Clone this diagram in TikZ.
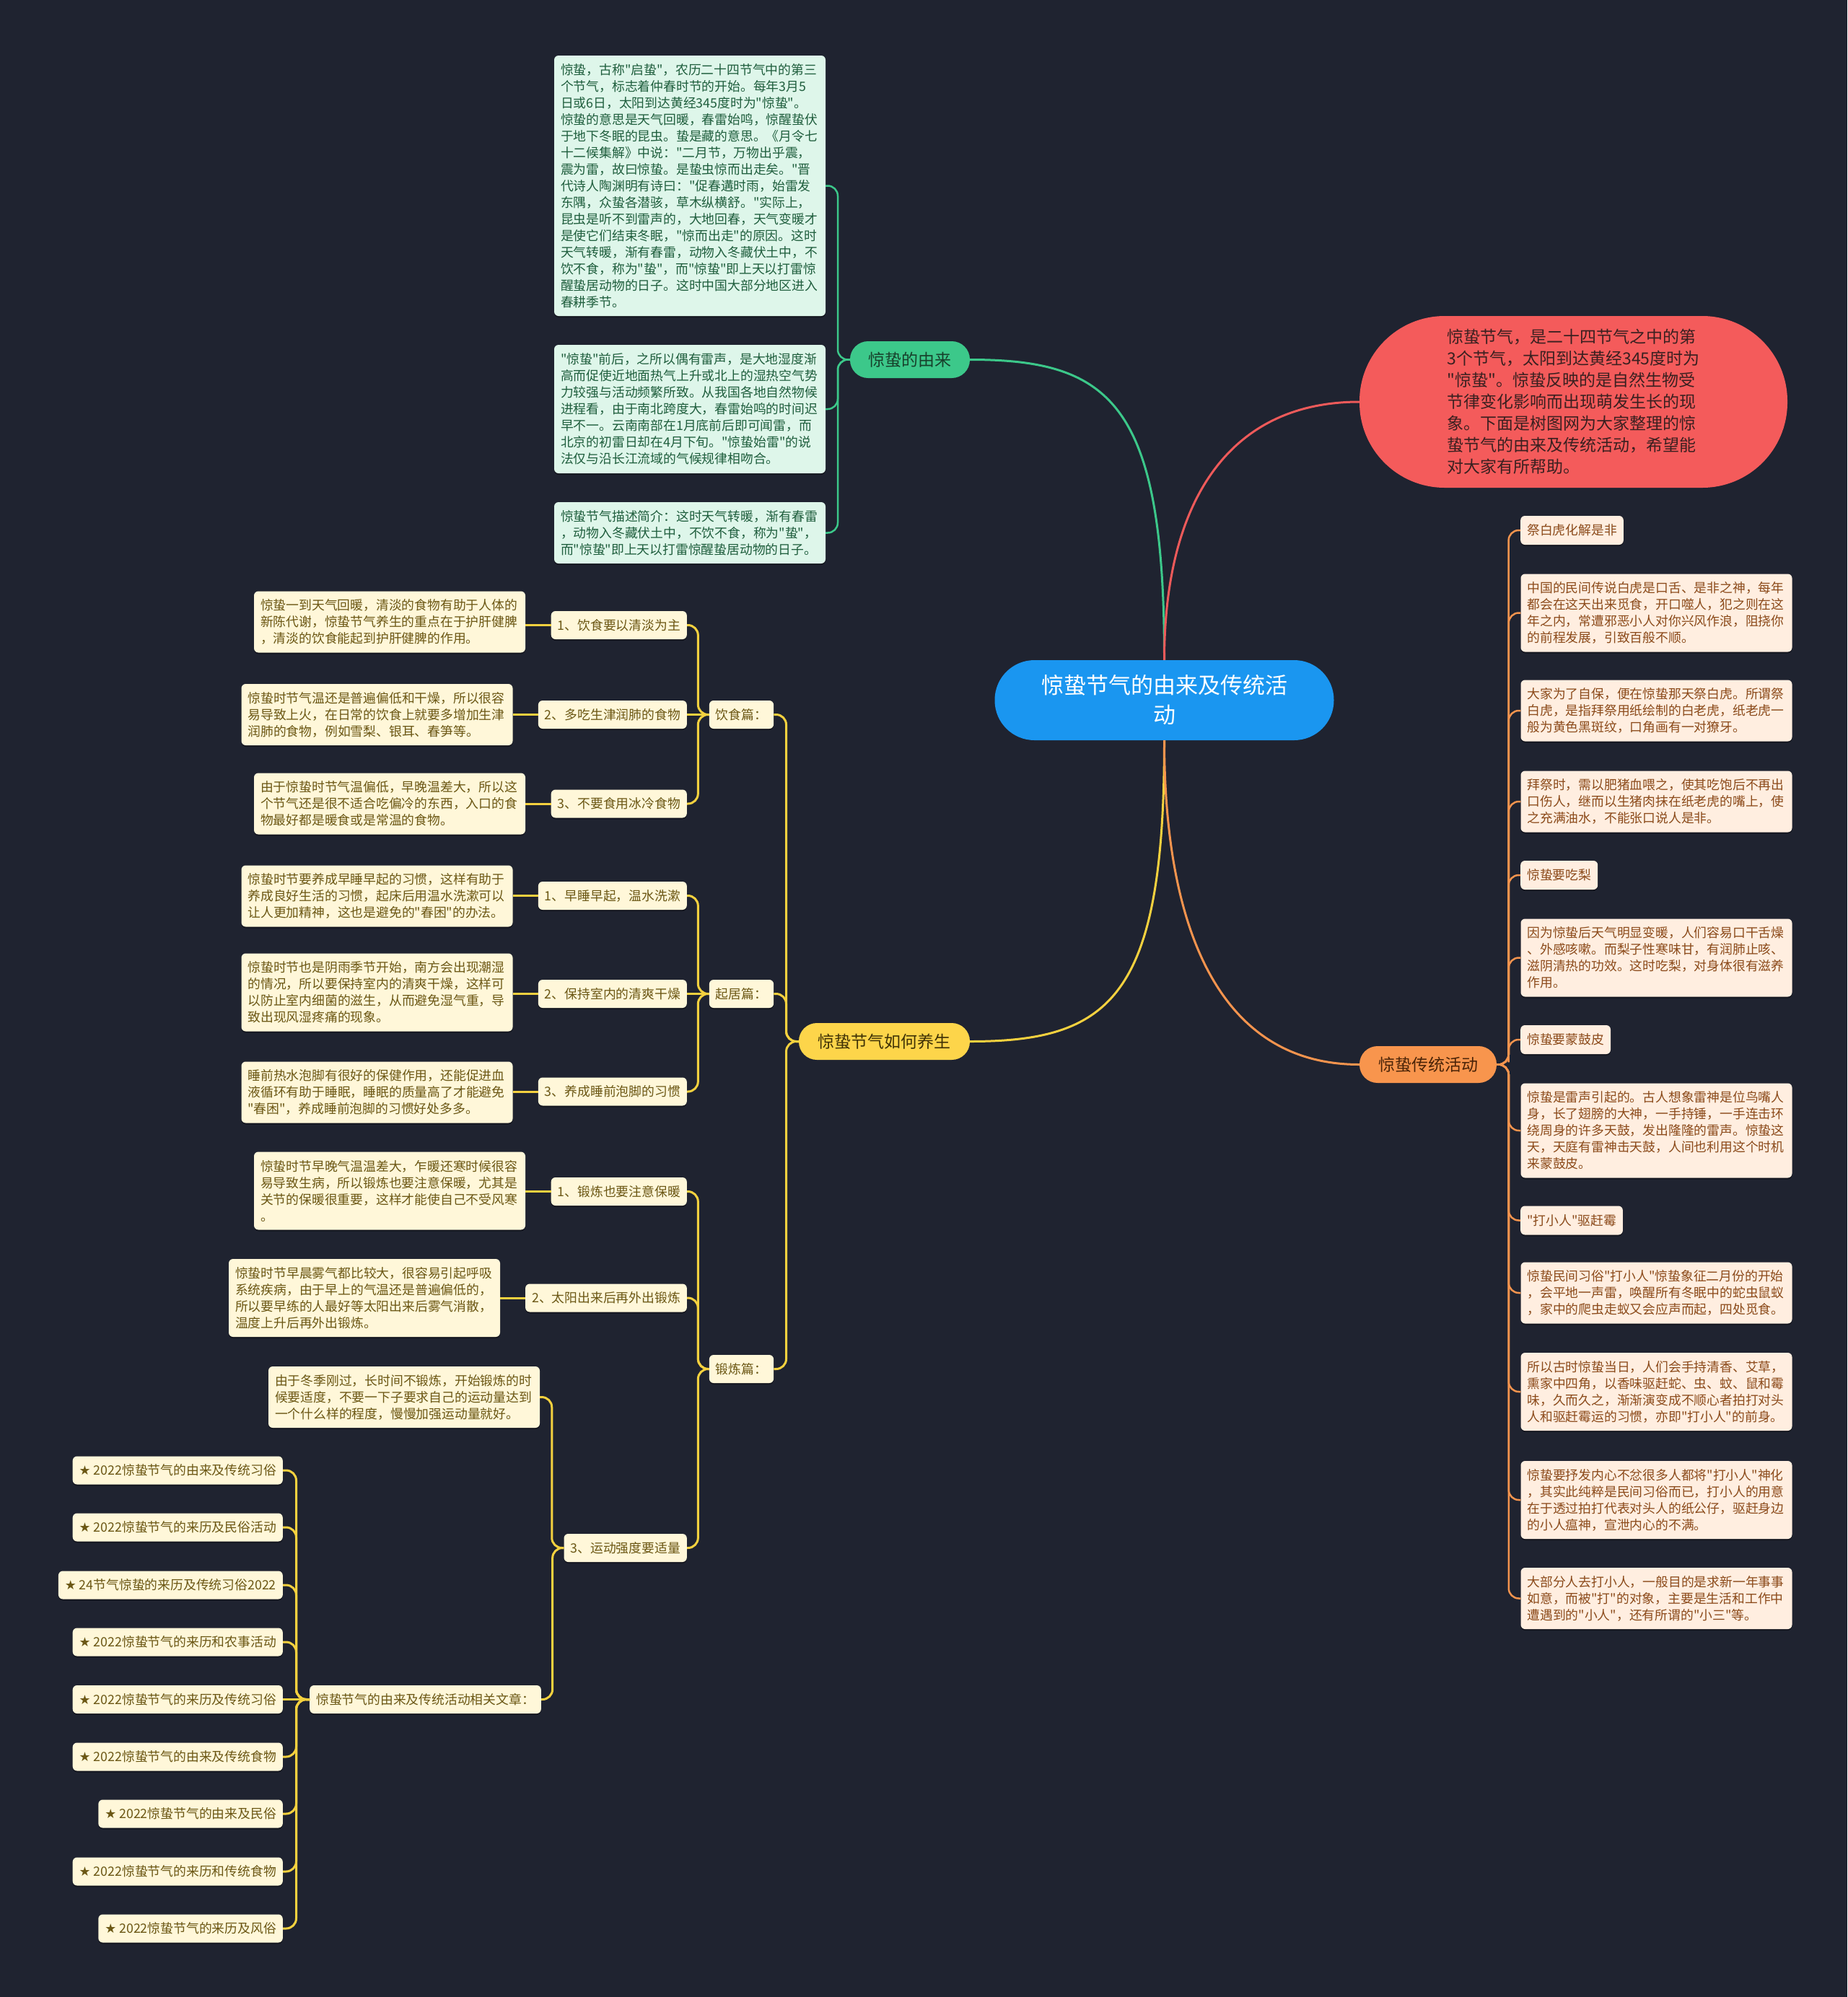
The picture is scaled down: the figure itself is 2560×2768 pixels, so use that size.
\documentclass[tikz,border=0pt]{standalone}
\usepackage{fontspec}
\setmainfont{Noto Sans CJK SC}[Ligatures=TeXOff]
\newfontfamily\djv{DejaVu Sans}
\usetikzlibrary{calc,shadows}
\definecolor{bg}{HTML}{1F2330}
\definecolor{blueroot}{HTML}{1A96F0}
\definecolor{gline}{HTML}{3CC88A}
\definecolor{gntext}{HTML}{17402B}
\definecolor{gfill}{HTML}{DEF6EA}
\definecolor{gtext}{HTML}{1F5E3D}
\definecolor{rnode}{HTML}{F45B5B}
\definecolor{rline}{HTML}{EE5A5A}
\definecolor{rtext}{HTML}{3A2020}
\definecolor{ynode}{HTML}{FDD54A}
\definecolor{yline}{HTML}{F4D13F}
\definecolor{yntext}{HTML}{3F3206}
\definecolor{yfill}{HTML}{FFF7D9}
\definecolor{ytext}{HTML}{6B5714}
\definecolor{onode}{HTML}{F8954D}
\definecolor{oline}{HTML}{F5944E}
\definecolor{ontext}{HTML}{4A2408}
\definecolor{ofill}{HTML}{FFEEE0}
\definecolor{otext}{HTML}{8B4A1A}
\newcommand\fs{\fontsize{17.8pt}{23pt}\selectfont}
\newcommand\lconn[3]{\draw[#1] (#2.west) -| ($(#2.west)!0.5!(#3.east)$) |- (#3.east);}
\newcommand\rconn[3]{\draw[#1] (#2.east) -| ($(#2.east)!0.5!(#3.west)$) |- (#3.west);}
\newcommand\sconn[3]{\draw[#1] (#2.west) -- (#2.west -| #3.east);}
\tikzset{
  bh/.style={minimum height=#1},
  shad/.style={drop shadow={shadow xshift=0pt,shadow yshift=-2pt,opacity=0.35,fill=black}},
  box/.style={rounded corners=6pt, align=left, inner xsep=9pt, inner ysep=2pt, font=\fs, shad},
  tbox/.style={box, text width=358pt},
  gbox/.style={tbox, fill=gfill, text=gtext},
  obox/.style={tbox, fill=ofill, text=otext},
  otitle/.style={box, fill=ofill, text=otext, minimum height=40pt, anchor=west},
  ybox/.style={tbox, fill=yfill, text=ytext},
  ylab/.style={box, fill=yfill, text=ytext, minimum height=39pt},
  prim/.style={minimum height=51pt, rounded corners=25pt, font=\fontsize{23pt}{28pt}\selectfont, inner sep=0pt},
  root/.style={fill=blueroot, text=white, rounded corners=55pt, minimum width=470pt, minimum height=111pt, align=center, font=\fontsize{31pt}{41pt}\selectfont},
  intro/.style={fill=rnode, text=rtext, rounded corners=118pt, minimum width=593pt, minimum height=238pt, align=left, font=\fontsize{23pt}{30pt}\selectfont},
  gl/.style={draw=gline, line width=2.5pt, rounded corners=14pt},
  ol/.style={draw=oline, line width=2.5pt, rounded corners=14pt},
  yl/.style={draw=yline, line width=3pt, rounded corners=14pt},
  mainline/.style={line width=3pt},
}
\begin{document}
\begin{tikzpicture}[x=1pt,y=-1pt]
\fill[bg] (0,0) rectangle (2560,2768);
\useasboundingbox (0,0) rectangle (2560,2768);

% root
\node[root] (c) at (1613.5,970.5) {惊蛰节气的由来及传统活\\动};

% intro
\node[intro] (r) at (2180.5,557) {惊蛰节气，是二十四节气之中的第\\3个节气，太阳到达黄经345度时为\\"惊蛰"。惊蛰反映的是自然生物受\\节律变化影响而出现萌发生长的现\\象。下面是树图网为大家整理的惊\\蛰节气的由来及传统活动，希望能\\对大家有所帮助。};

% primaries
\node[prim, fill=gline, text=gntext, minimum width=166pt] (g) at (1261,498.5) {惊蛰的由来};
\node[prim, fill=ynode, text=yntext, minimum width=237pt] (y) at (1225.5,1443.5) {惊蛰节气如何养生};
\node[prim, fill=onode, text=ontext, minimum width=190pt] (o) at (1979,1475.5) {惊蛰传统活动};

% main curves
\draw[mainline, draw=gline] (c.north) .. controls +(0,-355) and +(196,0) .. (g.east);
\draw[mainline, draw=rline] (c.north) .. controls +(0,-215) and +(-184,0) .. (r.west);
\draw[mainline, draw=yline] (c.south) .. controls +(0,355) and +(196,0) .. (y.east);
\draw[mainline, draw=oline] (c.south) .. controls +(0,250) and +(-200,0) .. (o.west);

% green children
\node[gbox, bh=361pt] (g1) at (956,257.5) {惊蛰，古称"启蛰"，农历二十四节气中的第三\\个节气，标志着仲春时节的开始。每年3月5\\日或6日，太阳到达黄经345度时为"惊蛰"。\\惊蛰的意思是天气回暖，春雷始鸣，惊醒蛰伏\\于地下冬眠的昆虫。蛰是藏的意思。《月令七\\十二候集解》中说："二月节，万物出乎震，\\震为雷，故曰惊蛰。是蛰虫惊而出走矣。"晋\\代诗人陶渊明有诗曰："促春遘时雨，始雷发\\东隅，众蛰各潜骇，草木纵横舒。"实际上，\\昆虫是听不到雷声的，大地回春，天气变暖才\\是使它们结束冬眠，"惊而出走"的原因。这时\\天气转暖，渐有春雷，动物入冬藏伏土中，不\\饮不食，称为"蛰"，而"惊蛰"即上天以打雷惊\\醒蛰居动物的日子。这时中国大部分地区进入\\春耕季节。};
\node[gbox, bh=178pt] (g2) at (956,567) {"惊蛰"前后，之所以偶有雷声，是大地湿度渐\\高而促使近地面热气上升或北上的湿热空气势\\力较强与活动频繁所致。从我国各地自然物候\\进程看，由于南北跨度大，春雷始鸣的时间迟\\早不一。云南南部在1月底前后即可闻雷，而\\北京的初雷日却在4月下旬。"惊蛰始雷"的说\\法仅与沿长江流域的气候规律相吻合。};
\node[gbox, bh=85pt] (g3) at (956,738.5) {惊蛰节气描述简介：这时天气转暖，渐有春雷\\，动物入冬藏伏土中，不饮不食，称为"蛰"，\\而"惊蛰"即上天以打雷惊醒蛰居动物的日子。};
\lconn{gl}{g}{g1}
\lconn{gl}{g}{g2}
\lconn{gl}{g}{g3}

% orange children
\node[otitle] (o1) at (2107,735) {祭白虎化解是非};
\node[obox, bh=108pt] (o2) at (2295.5,849.5) {中国的民间传说白虎是口舌、是非之神，每年\\都会在这天出来觅食，开口噬人，犯之则在这\\年之内，常遭邪恶小人对你兴风作浪，阻挠你\\的前程发展，引致百般不顺。};
\node[obox, bh=85pt] (o3) at (2295.5,985) {大家为了自保，便在惊蛰那天祭白虎。所谓祭\\白虎，是指拜祭用纸绘制的白老虎，纸老虎一\\般为黄色黑斑纹，口角画有一对獠牙。};
\node[obox, bh=85pt] (o4) at (2295.5,1111) {拜祭时，需以肥猪血喂之，使其吃饱后不再出\\口伤人，继而以生猪肉抹在纸老虎的嘴上，使\\之充满油水，不能张口说人是非。};
\node[otitle] (o5) at (2107,1213) {惊蛰要吃梨};
\node[obox, bh=108pt] (o6) at (2295.5,1327.5) {因为惊蛰后天气明显变暖，人们容易口干舌燥\\、外感咳嗽。而梨子性寒味甘，有润肺止咳、\\滋阴清热的功效。这时吃梨，对身体很有滋养\\作用。};
\node[otitle] (o7) at (2107,1441) {惊蛰要蒙鼓皮};
\node[obox, bh=131pt] (o8) at (2295.5,1567) {惊蛰是雷声引起的。古人想象雷神是位鸟嘴人\\身，长了翅膀的大神，一手持锤，一手连击环\\绕周身的许多天鼓，发出隆隆的雷声。惊蛰这\\天，天庭有雷神击天鼓，人间也利用这个时机\\来蒙鼓皮。};
\node[otitle] (o9) at (2107,1691.5) {"打小人"驱赶霉};
\node[obox, bh=85pt] (o10) at (2295.5,1792) {惊蛰民间习俗"打小人"惊蛰象征二月份的开始\\，会平地一声雷，唤醒所有冬眠中的蛇虫鼠蚁\\，家中的爬虫走蚁又会应声而起，四处觅食。};
\node[obox, bh=108pt] (o11) at (2295.5,1929) {所以古时惊蛰当日，人们会手持清香、艾草，\\熏家中四角，以香味驱赶蛇、虫、蚊、鼠和霉\\味，久而久之，渐渐演变成不顺心者拍打对头\\人和驱赶霉运的习惯，亦即"打小人"的前身。};
\node[obox, bh=108pt] (o12) at (2295.5,2079) {惊蛰要抒发内心不忿很多人都将"打小人"神化\\，其实此纯粹是民间习俗而已，打小人的用意\\在于透过拍打代表对头人的纸公仔，驱赶身边\\的小人瘟神，宣泄内心的不满。};
\node[obox, bh=85pt] (o13) at (2295.5,2215.5) {大部分人去打小人，一般目的是求新一年事事\\如意，而被"打"的对象，主要是生活和工作中\\遭遇到的"小人"，还有所谓的"小三"等。};
\foreach \k in {o1,o2,o3,o4,o5,o6,o7,o8,o9,o10,o11,o12,o13}{\rconn{ol}{o}{\k}}

% yellow categories
\node[ylab] (cd) at (1027.5,990.5) {饮食篇：};
\node[ylab] (cq) at (1027.5,1377.5) {起居篇：};
\node[ylab] (ce) at (1027.5,1897.5) {锻炼篇：};
\lconn{yl}{y}{cd}
\lconn{yl}{y}{cq}
\lconn{yl}{y}{ce}

% numbered items
\node[ylab, anchor=east] (d1) at (952,866.5) {1、饮食要以清淡为主};
\node[ylab, anchor=east] (d2) at (952,990.5) {2、多吃生津润肺的食物};
\node[ylab, anchor=east] (d3) at (952,1114) {3、不要食用冰冷食物};
\node[ylab, anchor=east] (q1) at (952,1241.5) {1、早睡早起，温水洗漱};
\node[ylab, anchor=east] (q2) at (952,1377.5) {2、保持室内的清爽干燥};
\node[ylab, anchor=east] (q3) at (952,1513) {3、养成睡前泡脚的习惯};
\node[ylab, anchor=east] (e1) at (952,1651.5) {1、锻炼也要注意保暖};
\node[ylab, anchor=east] (e2) at (952,1799) {2、太阳出来后再外出锻炼};
\node[ylab, anchor=east] (e3) at (952,2145.5) {3、运动强度要适量};
\lconn{yl}{cd}{d1}
\sconn{yl}{cd}{d2}
\lconn{yl}{cd}{d3}
\lconn{yl}{cq}{q1}
\sconn{yl}{cq}{q2}
\lconn{yl}{cq}{q3}
\lconn{yl}{ce}{e1}
\lconn{yl}{ce}{e2}
\lconn{yl}{ce}{e3}

% yellow text boxes
\node[ybox, bh=85pt] (td1) at (540,862) {惊蛰一到天气回暖，清淡的食物有助于人体的\\新陈代谢，惊蛰节气养生的重点在于护肝健脾\\，清淡的饮食能起到护肝健脾的作用。};
\node[ybox, bh=85pt] (td2) at (522.5,990.5) {惊蛰时节气温还是普遍偏低和干燥，所以很容\\易导致上火，在日常的饮食上就要多增加生津\\润肺的食物，例如雪梨、银耳、春笋等。};
\node[ybox, bh=85pt] (td3) at (540,1114) {由于惊蛰时节气温偏低，早晚温差大，所以这\\个节气还是很不适合吃偏冷的东西，入口的食\\物最好都是暖食或是常温的食物。};
\node[ybox, bh=85pt] (tq1) at (522.5,1242) {惊蛰时节要养成早睡早起的习惯，这样有助于\\养成良好生活的习惯，起床后用温水洗漱可以\\让人更加精神，这也是避免的"春困"的办法。};
\node[ybox, bh=108pt] (tq2) at (522.5,1375.5) {惊蛰时节也是阴雨季节开始，南方会出现潮湿\\的情况，所以要保持室内的清爽干燥，这样可\\以防止室内细菌的滋生，从而避免湿气重，导\\致出现风湿疼痛的现象。};
\node[ybox, bh=85pt] (tq3) at (522.5,1514) {睡前热水泡脚有很好的保健作用，还能促进血\\液循环有助于睡眠，睡眠的质量高了才能避免\\"春困"，养成睡前泡脚的习惯好处多多。};
\node[ybox, bh=108pt] (te1) at (540,1650.5) {惊蛰时节早晚气温温差大，乍暖还寒时候很容\\易导致生病，所以锻炼也要注意保暖，尤其是\\关节的保暖很重要，这样才能使自己不受风寒\\。};
\node[ybox, bh=108pt] (te2) at (505,1799) {惊蛰时节早晨雾气都比较大，很容易引起呼吸\\系统疾病，由于早上的气温还是普遍偏低的，\\所以要早练的人最好等太阳出来后雾气消散，\\温度上升后再外出锻炼。};
\node[ybox, bh=85pt] (te3) at (560,1936.5) {由于冬季刚过，长时间不锻炼，开始锻炼的时\\候要适度，不要一下子要求自己的运动量达到\\一个什么样的程度，慢慢加强运动量就好。};
\node[ylab, anchor=east] (rel) at (750,2355.5) {惊蛰节气的由来及传统活动相关文章：};
\sconn{yl}{d1}{td1}
\sconn{yl}{d2}{td2}
\sconn{yl}{d3}{td3}
\sconn{yl}{q1}{tq1}
\sconn{yl}{q2}{tq2}
\sconn{yl}{q3}{tq3}
\sconn{yl}{e1}{te1}
\sconn{yl}{e2}{te2}
\lconn{yl}{e3}{te3}
\lconn{yl}{e3}{rel}

% related articles
\node[ylab, anchor=east] (s1) at (392,2038) {{\djv ★} 2022惊蛰节气的由来及传统习俗};
\node[ylab, anchor=east] (s2) at (392,2117) {{\djv ★} 2022惊蛰节气的来历及民俗活动};
\node[ylab, anchor=east] (s3) at (392,2197) {{\djv ★} 24节气惊蛰的来历及传统习俗2022};
\node[ylab, anchor=east] (s4) at (392,2276) {{\djv ★} 2022惊蛰节气的来历和农事活动};
\node[ylab, anchor=east] (s5) at (392,2355.5) {{\djv ★} 2022惊蛰节气的来历及传统习俗};
\node[ylab, anchor=east] (s6) at (392,2435) {{\djv ★} 2022惊蛰节气的由来及传统食物};
\node[ylab, anchor=east] (s7) at (392,2514) {{\djv ★} 2022惊蛰节气的由来及民俗};
\node[ylab, anchor=east] (s8) at (392,2594) {{\djv ★} 2022惊蛰节气的来历和传统食物};
\node[ylab, anchor=east] (s9) at (392,2673) {{\djv ★} 2022惊蛰节气的来历及风俗};
\foreach \k in {s1,s2,s3,s4,s6,s7,s8,s9}{\lconn{yl}{rel}{\k}}
\sconn{yl}{rel}{s5}
\end{tikzpicture}
\end{document}
